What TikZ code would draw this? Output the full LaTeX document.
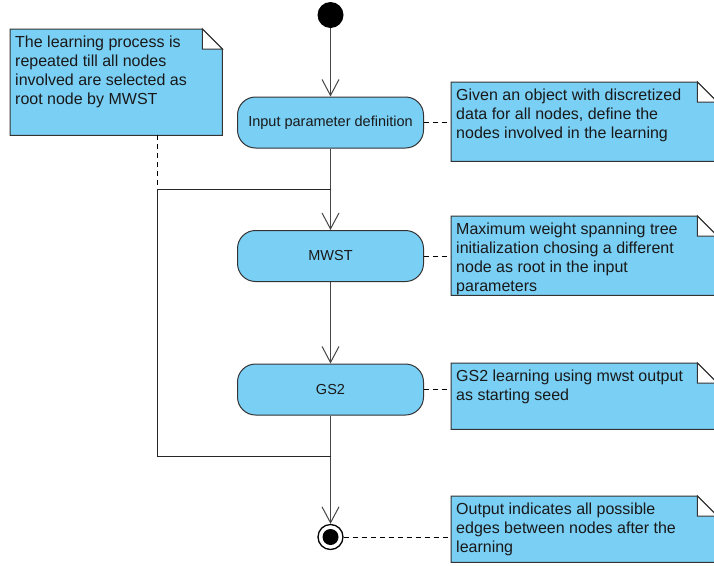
\documentclass[tikz,border=0pt]{standalone}
\usepackage{fontspec}
\setmainfont{Liberation Sans}
\usetikzlibrary{arrows.meta}
\definecolor{actblue}{RGB}{122,207,245}
\definecolor{edgegray}{RGB}{70,70,70}
\definecolor{inkgray}{RGB}{51,51,51}
\begin{document}
\begin{tikzpicture}[x=1pt,y=-1pt,
  action/.style={rectangle, rounded corners=18pt, draw=inkgray, line width=1pt,
    fill=actblue, minimum width=186pt, minimum height=51pt, inner sep=0pt,
    font=\fontsize{14.5}{17}\selectfont, text=black!90},
  notebox/.style={rectangle, inner sep=0pt, anchor=north west},
  notefill/.style={draw=inkgray, line width=1pt, fill=actblue},
  notetext/.style={anchor=north west, inner sep=0pt, align=left,
    font=\fontsize{16}{19}\selectfont, text=black!90},
  flow/.style={draw=edgegray, line width=1pt, -{Straight Barb[length=16pt,width=17pt]}},
  loopline/.style={draw=black!85, line width=1pt},
  anchorline/.style={draw=black, line width=1pt, dash pattern=on 5pt off 4pt},
]
\clip (0,0) rectangle (714,565);
\fill[white] (0,0) rectangle (714,565);

% activity nodes
\node[circle, fill=black, minimum size=26pt, inner sep=0pt] (start) at (330.5,15) {};
\node[action] (input) at (330.5,122.5) {Input parameter definition};
\node[action] (mwst) at (330.5,256) {MWST};
\node[action] (gs2) at (330.5,389.5) {GS2};
\node[circle, draw=black, line width=1.3pt, fill=white, minimum size=25pt, inner sep=0pt] (final) at (330.5,537) {};
\node[circle, fill=black, minimum size=16pt, inner sep=0pt] (finaldot) at (final.center) {};

% note frames
\node[notebox, minimum width=212pt, minimum height=106pt] (nloop) at (10,29) {};
\node[notebox, minimum width=266pt, minimum height=79pt] (ninput) at (451,82) {};
\node[notebox, minimum width=266pt, minimum height=79pt] (nmwst) at (451,216) {};
\node[notebox, minimum width=266pt, minimum height=66pt] (ngs2) at (451,363) {};
\node[notebox, minimum width=266pt, minimum height=66pt] (nout) at (451,496) {};

\foreach \n in {nloop,ninput,nmwst,ngs2,nout}{
  \draw[notefill] (\n.north west) -- ([xshift=-20pt]\n.north east)
    -- ([yshift=-20pt]\n.north east) -- (\n.south east) -- (\n.south west) -- cycle;
  \draw[draw=inkgray, line width=1pt, fill=white] ([xshift=-20pt]\n.north east)
    -- ([xshift=-20pt,yshift=-20pt]\n.north east) -- ([yshift=-20pt]\n.north east) -- cycle;
}

% note texts
\node[notetext] (tloop) at ([shift={(5,7)}]nloop.north west)
  {The learning process is\\repeated till all nodes\\involved are selected as\\root node by MWST};
\node[notetext] (tinput) at ([shift={(5,7)}]ninput.north west)
  {Given an object with discretized\\data for all nodes, define the\\nodes involved in the learning};
\node[notetext] (tmwst) at ([shift={(5,7)}]nmwst.north west)
  {Maximum weight spanning tree\\initialization chosing a different\\node as root in the input\\parameters};
\node[notetext] (tgs2) at ([shift={(5,7)}]ngs2.north west)
  {GS2 learning using mwst output\\as starting seed};
\node[notetext] (tout) at ([shift={(5,7)}]nout.north west)
  {Output indicates all possible\\edges between nodes after the\\learning};

% loop points
\coordinate (join) at (330.5,189);
\coordinate (split) at (330.5,456);
\coordinate (loopbl) at (157,456);
\coordinate (looptl) at (157,189);

% control flow
\draw[flow] (start) -- (input);
\draw[flow] (input) -- (mwst);
\draw[flow] (mwst) -- (gs2);
\draw[flow] (gs2) -- (final);
\draw[loopline] (split) -- (loopbl) -- (looptl) -- (join);

% note anchors
\draw[anchorline] (nloop.south -| looptl) -- (looptl);
\draw[anchorline] (input.east) -- (input.east -| ninput.west);
\draw[anchorline] (mwst.east) -- (mwst.east -| nmwst.west);
\draw[anchorline] (gs2.east) -- (gs2.east -| ngs2.west);
\draw[anchorline] (final.east) -- (final.east -| nout.west);
\end{tikzpicture}
\end{document}
